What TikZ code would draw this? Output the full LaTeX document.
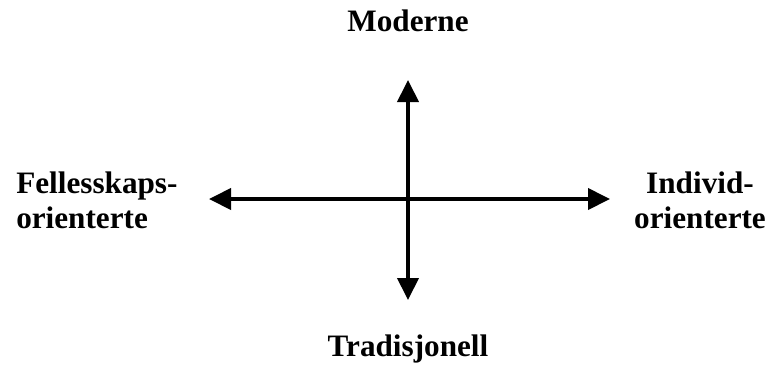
\documentclass[tikz,border=0pt]{standalone}
\usepackage{fontspec}
\setmainfont{Liberation Serif}
\usetikzlibrary{arrows.meta}

\begin{document}
\begin{tikzpicture}[
    x=0.75pt, y=-0.75pt,
    every node/.style={font=\fontsize{23.4}{26.3}\selectfont\bfseries, inner sep=0pt},
    axis/.style={{Triangle[length=16.5pt,width=15.75pt]}-{Triangle[length=16.5pt,width=15.75pt]}, line width=3pt}
]
\useasboundingbox (0,0) rectangle (771,369);

\coordinate (west) at (209,199);
\coordinate (east) at (610,199);
\coordinate (north) at (408,80);
\coordinate (south) at (408,300);

\node[anchor=base] (modern) at (408,31) {Moderne};
\node[anchor=base] (trad) at (408,356) {Tradisjonell};
\node[anchor=west, align=left] (felles) at (16,200) {Fellesskaps-\\orienterte};
\node[align=center] (indiv) at (700,200) {Individ-\\orienterte};

\draw[axis] (west) -- (east);
\draw[axis] (south) -- (north);
\end{tikzpicture}
\end{document}
